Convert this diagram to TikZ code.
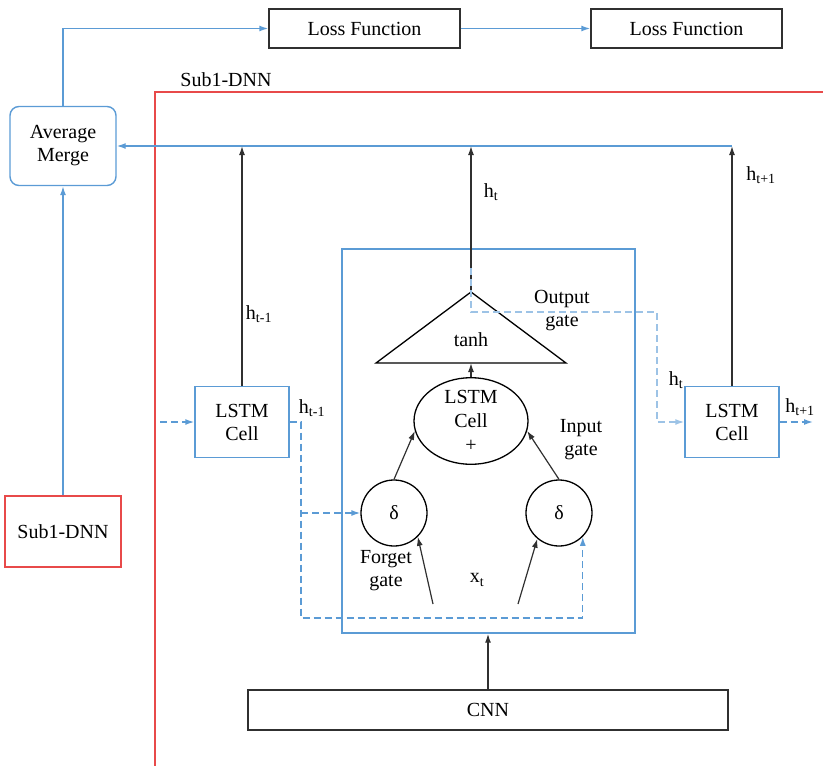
\documentclass[tikz,border=0pt]{standalone}
\usepackage{fontspec}
\setmainfont{Liberation Serif}
\usetikzlibrary{shapes.geometric,arrows.meta}
\definecolor{bl}{HTML}{5B9BD5}
\definecolor{lbl}{HTML}{9DC3E6}
\definecolor{rd}{HTML}{E84A4A}
\definecolor{dk}{HTML}{303030}
\begin{document}
\begin{tikzpicture}[x=1pt,y=-1pt,
  font=\fontsize{20}{23}\selectfont,
  every node/.style={inner sep=0pt, align=center},
  blackbox/.style={draw=dk, line width=1.4pt},
  bluebox/.style={draw=bl, line width=1.4pt},
  karrow/.style={draw=dk, line width=1.4pt, -{Latex[length=9pt,width=6pt]}},
  barrow/.style={draw=bl, line width=1.4pt, -{Latex[length=9pt,width=6pt]}},
  bdash/.style={draw=bl, line width=1.4pt, dash pattern=on 7pt off 4pt},
  ldash/.style={draw=lbl, line width=1.4pt, dash pattern=on 7pt off 4pt},
  lbl/.style={font=\fontsize{20}{23}\selectfont}]
\useasboundingbox (0,0) rectangle (823,766);

% boxes
\node[blackbox, minimum width=191pt, minimum height=39pt] (lf1) at (364.5,28.5) {Loss Function};
\node[blackbox, minimum width=191pt, minimum height=39pt] (lf2) at (686.5,28.5) {Loss Function};
\node[bluebox, rounded corners=9pt, minimum width=106pt, minimum height=79pt] (am) at (63,146) {Average\\Merge};
\node[draw=rd, line width=1.4pt, minimum width=116pt, minimum height=71pt] (sub) at (63,531.5) {Sub1-DNN};
\node[bluebox, minimum width=94pt, minimum height=71pt] (l1) at (242,422) {LSTM\\Cell};
\node[bluebox, minimum width=94pt, minimum height=71pt] (l2) at (732,422) {LSTM\\Cell};
\node[bluebox, minimum width=293pt, minimum height=384pt] (inner) at (488.5,441) {};
\node[blackbox, minimum width=480pt, minimum height=40pt] (cnn) at (488,710) {CNN};
\node[draw=black, line width=1.3pt, ellipse, minimum width=114pt, minimum height=76pt,
      font=\fontsize{20}{24}\selectfont] (cell) at (471,421) {LSTM\\Cell\\+};
\node[draw=black, line width=1.3pt, circle, minimum size=66pt] (fg) at (394,513) {δ};
\node[draw=black, line width=1.3pt, circle, minimum size=66pt] (ig) at (559,513) {δ};

% triangle
\coordinate (apex) at (471,292);
\coordinate (tl) at (376,363);
\coordinate (tr) at (566,363);
\draw[black, line width=1.3pt] (tl) -- (apex) -- (tr) -- cycle;
\node (tanh) at (471,340) {tanh};

% red frame
\draw[rd, line width=1.4pt] (155,766) -- (155,92) -- (823,92);
\node (sublbl) at (226,80) {Sub1-DNN};

% blue connectors top
\draw[barrow] (am.north) |- (lf1.west);
\draw[barrow] (lf1.east) -- (lf2.west);
\draw[barrow] (sub.north) -- (am.south);
\coordinate (topr) at (732,146);
\draw[barrow] (topr) -- (am.east);

% black up arrows
\draw[karrow] (l1.north) -- (l1.north |- topr);
\draw[karrow] (apex) -- (apex |- topr);
\draw[karrow] (l2.north) -- (topr);
\draw[karrow] (cell.north) -- (cell.north |- tl);
\draw[karrow, line width=1.2pt] (fg.north) -- (cell.190);
\draw[karrow, line width=1.2pt] (ig.north) -- (cell.350);
\coordinate (x1) at (433,604);
\coordinate (x2) at (518,604);
\draw[karrow, line width=1.2pt] (x1) -- (fg.-45);
\draw[karrow, line width=1.2pt] (x2) -- (ig.-130);
\draw[karrow] (cnn.north) -- (cnn.north |- inner.south);

% dashed connectors
\coordinate (lin) at (160,422);
\draw[bdash, -{Latex[length=9pt,width=6pt]}] (lin) -- (l1.west);
\coordinate (d1) at (301,422);
\coordinate (d2) at (301,618);
\coordinate (d3) at (ig.-45 |- d2);
\draw[bdash, -{Latex[length=9pt,width=6pt]}] (l1.east) -- (d1) -- (d2) -- (d3) -- (ig.-45);
\draw[bdash, -{Latex[length=9pt,width=6pt]}] (d1 |- fg.west) -- (fg.west);
\coordinate (o0) at (471,268);
\coordinate (o1) at (471,312);
\coordinate (o2) at (657,312);
\coordinate (o3) at (657,422);
\draw[ldash, -{Latex[length=9pt,width=6pt]}] (o0) -- (o1) -- (o2) -- (o3) -- (l2.west);
\coordinate (rout) at (813,422);
\draw[bdash, -{Latex[length=9pt,width=6pt]}] (l2.east) -- (rout);

% labels
\node (h1) at (259,314) {h\textsubscript{t-1}};
\node (h2) at (312,408) {h\textsubscript{t-1}};
\node (h3) at (491,192) {h\textsubscript{t}};
\node (h4) at (761,175) {h\textsubscript{t+1}};
\node (h5) at (676,380) {h\textsubscript{t}};
\node (h6) at (800,407) {h\textsubscript{t+1}};
\node (xt) at (477,580) {x\textsubscript{t}};
\node[lbl] (og) at (562,311) {Output\\gate};
\node[lbl] (igl) at (581,440) {Input\\gate};
\node[lbl] (fgl) at (386,571) {Forget\\gate};
\end{tikzpicture}
\end{document}
